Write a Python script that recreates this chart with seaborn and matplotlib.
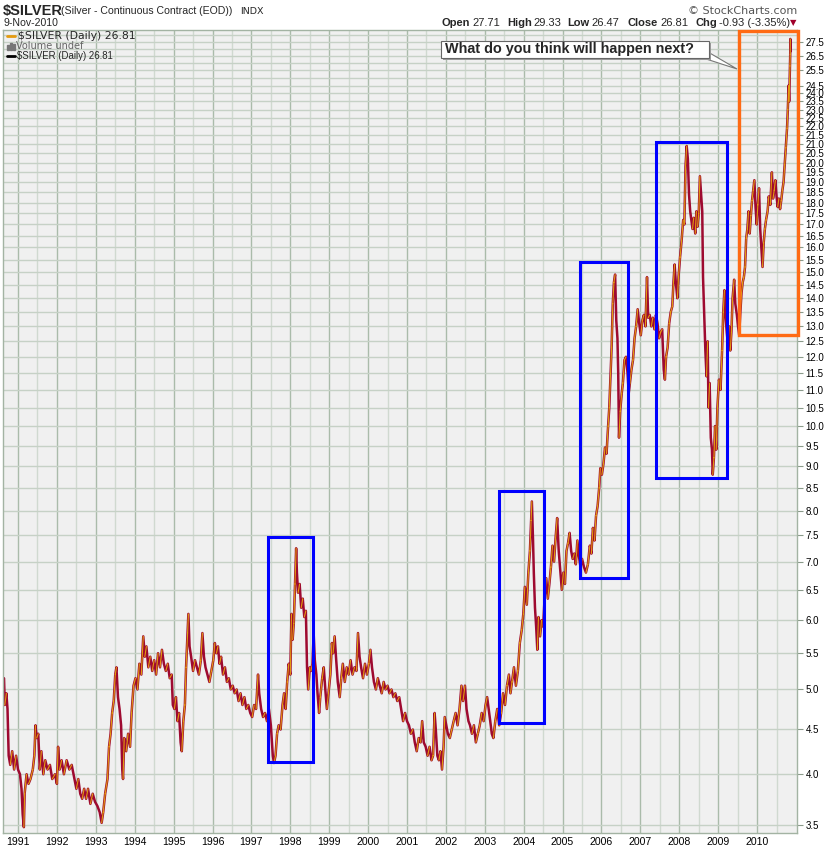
import numpy as np
import matplotlib
matplotlib.use("Agg")
import matplotlib.pyplot as plt
from matplotlib.patches import Rectangle, Polygon
from matplotlib.lines import Line2D
from matplotlib.ticker import FixedLocator, FixedFormatter, NullFormatter
import seaborn as sns

# silver close (decimal year, price)
dates = [
    1990.64, 1990.66, 1990.70, 1990.73, 1990.76, 1990.80, 1990.85, 1990.90, 1990.95, 1991.00,
    1991.05, 1991.09, 1991.12, 1991.15, 1991.17, 1991.22, 1991.27, 1991.32, 1991.38, 1991.42,
    1991.45, 1991.48, 1991.52, 1991.56, 1991.60, 1991.65, 1991.70, 1991.76, 1991.82, 1991.88,
    1991.95, 1992.00, 1992.03, 1992.07, 1992.12, 1992.18, 1992.25, 1992.32, 1992.38, 1992.45,
    1992.50, 1992.55, 1992.60, 1992.65, 1992.70, 1992.75, 1992.80, 1992.86, 1992.92, 1992.98,
    1993.04, 1993.10, 1993.15, 1993.19, 1993.24, 1993.30, 1993.34, 1993.38, 1993.42, 1993.46,
    1993.50, 1993.53, 1993.57, 1993.61, 1993.65, 1993.68, 1993.70, 1993.73, 1993.78, 1993.83,
    1993.88, 1993.92, 1993.97, 1994.02, 1994.07, 1994.12, 1994.17, 1994.22, 1994.26, 1994.30,
    1994.35, 1994.40, 1994.45, 1994.50, 1994.55, 1994.60, 1994.65, 1994.70, 1994.75, 1994.80,
    1994.85, 1994.90, 1994.95, 1994.98, 1995.02, 1995.06, 1995.10, 1995.14, 1995.18, 1995.21,
    1995.25, 1995.29, 1995.32, 1995.36, 1995.38, 1995.41, 1995.45, 1995.50, 1995.55, 1995.60,
    1995.65, 1995.70, 1995.74, 1995.78, 1995.82, 1995.87, 1995.92, 1995.97, 1996.02, 1996.06,
    1996.10, 1996.14, 1996.18, 1996.22, 1996.27, 1996.32, 1996.37, 1996.42, 1996.47, 1996.52,
    1996.57, 1996.62, 1996.67, 1996.72, 1996.77, 1996.82, 1996.87, 1996.92, 1996.97, 1997.02,
    1997.07, 1997.12, 1997.17, 1997.20, 1997.25, 1997.30, 1997.35, 1997.40, 1997.45, 1997.50,
    1997.55, 1997.58, 1997.62, 1997.66, 1997.70, 1997.75, 1997.80, 1997.84, 1997.88, 1997.92,
    1997.96, 1998.00, 1998.03, 1998.06, 1998.09, 1998.12, 1998.15, 1998.17, 1998.20, 1998.24,
    1998.28, 1998.32, 1998.36, 1998.40, 1998.43, 1998.46, 1998.50, 1998.53, 1998.57, 1998.60,
    1998.63, 1998.67, 1998.70, 1998.74, 1998.77, 1998.82, 1998.86, 1998.90, 1998.94, 1998.98,
    1999.03, 1999.07, 1999.10, 1999.14, 1999.18, 1999.22, 1999.27, 1999.31, 1999.35, 1999.40,
    1999.45, 1999.50, 1999.55, 1999.60, 1999.65, 1999.70, 1999.74, 1999.78, 1999.82, 1999.87,
    1999.92, 1999.97, 2000.02, 2000.06, 2000.10, 2000.15, 2000.20, 2000.25, 2000.30, 2000.35,
    2000.40, 2000.45, 2000.50, 2000.55, 2000.60, 2000.65, 2000.70, 2000.75, 2000.80, 2000.85,
    2000.90, 2000.95, 2001.00, 2001.05, 2001.10, 2001.15, 2001.20, 2001.25, 2001.30, 2001.35,
    2001.39, 2001.43, 2001.48, 2001.53, 2001.58, 2001.63, 2001.67, 2001.71, 2001.74, 2001.78,
    2001.82, 2001.86, 2001.90, 2001.94, 2001.97, 2002.01, 2002.05, 2002.10, 2002.15, 2002.20,
    2002.25, 2002.30, 2002.35, 2002.40, 2002.44, 2002.49, 2002.53, 2002.58, 2002.62, 2002.67,
    2002.72, 2002.77, 2002.82, 2002.87, 2002.92, 2002.97, 2003.02, 2003.06, 2003.10, 2003.14,
    2003.18, 2003.22, 2003.27, 2003.32, 2003.37, 2003.42, 2003.47, 2003.52, 2003.57, 2003.62,
    2003.66, 2003.70, 2003.75, 2003.80, 2003.85, 2003.90, 2003.95, 2003.99, 2004.03, 2004.08,
    2004.12, 2004.16, 2004.19, 2004.21, 2004.24, 2004.26, 2004.29, 2004.32, 2004.35, 2004.38,
    2004.42, 2004.46, 2004.50, 2004.54, 2004.58, 2004.62, 2004.66, 2004.70, 2004.74, 2004.78,
    2004.82, 2004.86, 2004.90, 2004.94, 2004.98, 2005.02, 2005.06, 2005.10, 2005.14, 2005.18,
    2005.22, 2005.26, 2005.30, 2005.34, 2005.38, 2005.42, 2005.46, 2005.50, 2005.55, 2005.60,
    2005.65, 2005.70, 2005.74, 2005.78, 2005.82, 2005.86, 2005.90, 2005.94, 2005.97, 2006.01,
    2006.05, 2006.09, 2006.13, 2006.17, 2006.20, 2006.23, 2006.26, 2006.29, 2006.32, 2006.35,
    2006.38, 2006.41, 2006.43, 2006.45, 2006.48, 2006.52, 2006.55, 2006.59, 2006.63, 2006.67,
    2006.70, 2006.73, 2006.77, 2006.81, 2006.85, 2006.89, 2006.93, 2006.97, 2007.01, 2007.05,
    2007.09, 2007.13, 2007.17, 2007.20, 2007.24, 2007.28, 2007.32, 2007.36, 2007.40, 2007.44,
    2007.48, 2007.52, 2007.56, 2007.60, 2007.63, 2007.66, 2007.70, 2007.74, 2007.78, 2007.82,
    2007.85, 2007.88, 2007.91, 2007.95, 2007.98, 2008.02, 2008.06, 2008.10, 2008.13, 2008.16,
    2008.19, 2008.22, 2008.25, 2008.28, 2008.31, 2008.34, 2008.37, 2008.41, 2008.44, 2008.47,
    2008.50, 2008.53, 2008.56, 2008.59, 2008.61, 2008.64, 2008.67, 2008.70, 2008.73, 2008.75,
    2008.78, 2008.81, 2008.84, 2008.86, 2008.89, 2008.92, 2008.95, 2008.98, 2009.02, 2009.06,
    2009.10, 2009.13, 2009.16, 2009.19, 2009.22, 2009.25, 2009.28, 2009.31, 2009.34, 2009.37,
    2009.41, 2009.44, 2009.48, 2009.51, 2009.54, 2009.57, 2009.60, 2009.63, 2009.66, 2009.69,
    2009.72, 2009.75, 2009.78, 2009.81, 2009.84, 2009.87, 2009.90, 2009.93, 2009.96, 2009.99,
    2010.02, 2010.05, 2010.08, 2010.11, 2010.14, 2010.17, 2010.20, 2010.23, 2010.27, 2010.30,
    2010.34, 2010.38, 2010.41, 2010.44, 2010.47, 2010.50, 2010.53, 2010.56, 2010.59, 2010.62,
    2010.65, 2010.68, 2010.71, 2010.74, 2010.77, 2010.79, 2010.81, 2010.825, 2010.835, 2010.845,
    2010.852, 2010.855, 2010.858,
]
prices = [
    5.15, 4.80, 4.95, 4.75, 4.20, 4.10, 4.25, 4.05, 4.20, 4.05,
    4.00, 3.85, 3.60, 3.48, 3.80, 4.00, 3.90, 3.95, 4.05, 4.20,
    4.55, 4.40, 4.45, 4.05, 4.25, 4.00, 4.15, 4.05, 4.10, 3.95,
    4.00, 3.90, 4.30, 4.05, 4.15, 4.00, 4.15, 4.05, 4.10, 3.95,
    3.85, 3.95, 3.80, 3.75, 3.85, 3.75, 3.85, 3.70, 3.80, 3.72,
    3.68, 3.62, 3.52, 3.62, 3.80, 3.95, 4.30, 4.45, 4.70, 4.85,
    5.20, 5.30, 4.90, 4.75, 4.55, 4.05, 3.95, 4.40, 4.25, 4.45,
    4.30, 4.70, 5.05, 5.15, 5.00, 5.35, 5.20, 5.75, 5.45, 5.60,
    5.30, 5.45, 5.25, 5.40, 5.20, 5.50, 5.30, 5.55, 5.35, 5.25,
    5.35, 5.15, 5.20, 4.80, 4.75, 4.90, 4.60, 4.70, 4.35, 4.25,
    4.60, 4.80, 5.30, 5.80, 6.10, 5.60, 5.45, 5.25, 5.40, 5.30,
    5.20, 5.40, 5.80, 5.45, 5.30, 5.20, 5.10, 5.25, 5.40, 5.65,
    5.50, 5.60, 5.35, 5.45, 5.20, 5.30, 5.10, 5.15, 5.00, 5.05,
    4.95, 5.00, 4.85, 4.95, 4.80, 4.90, 4.75, 4.80, 4.70, 4.65,
    4.80, 4.75, 5.20, 4.95, 4.75, 4.65, 4.70, 4.60, 4.75, 4.55,
    4.20, 4.12, 4.20, 4.45, 4.55, 4.50, 4.80, 4.95, 4.75, 5.10,
    5.35, 5.20, 6.10, 5.70, 5.95, 6.60, 7.25, 6.80, 6.45, 6.60,
    6.20, 6.35, 6.05, 6.15, 5.30, 5.00, 5.30, 5.25, 5.35, 5.80,
    5.40, 5.20, 4.95, 4.70, 4.90, 5.15, 5.30, 5.00, 4.75, 4.95,
    5.20, 5.65, 5.50, 5.75, 5.40, 5.10, 4.90, 5.15, 5.35, 5.10,
    5.30, 5.20, 5.40, 5.20, 5.30, 5.25, 5.80, 5.45, 5.30, 5.15,
    5.35, 5.20, 5.35, 5.55, 5.30, 5.10, 5.00, 5.15, 5.05, 4.95,
    5.10, 5.00, 5.05, 4.95, 5.00, 4.90, 4.95, 4.85, 4.90, 4.75,
    4.60, 4.70, 4.60, 4.55, 4.45, 4.50, 4.35, 4.25, 4.40, 4.35,
    4.60, 4.35, 4.30, 4.20, 4.30, 4.15, 4.20, 4.70, 4.50, 4.20,
    4.15, 4.25, 4.05, 4.30, 4.65, 4.55, 4.45, 4.40, 4.50, 4.60,
    4.70, 4.55, 4.75, 5.05, 4.85, 5.05, 4.75, 4.60, 4.55, 4.45,
    4.55, 4.35, 4.45, 4.55, 4.70, 4.60, 4.80, 4.90, 4.75, 4.60,
    4.45, 4.40, 4.60, 4.75, 4.55, 4.70, 4.95, 4.80, 5.05, 5.20,
    4.95, 5.10, 5.30, 5.05, 5.25, 5.65, 5.85, 6.10, 6.55, 6.25,
    6.80, 7.20, 7.80, 8.20, 7.40, 6.80, 6.20, 5.90, 5.55, 6.05,
    5.75, 6.00, 5.90, 6.40, 6.70, 6.35, 6.60, 6.90, 7.30, 7.00,
    7.45, 7.85, 7.20, 6.85, 6.50, 6.80, 6.60, 7.20, 7.35, 7.55,
    7.20, 7.05, 7.15, 6.95, 7.40, 7.10, 6.90, 7.05, 6.90, 6.80,
    6.95, 7.30, 7.15, 7.65, 7.40, 7.90, 8.10, 8.50, 8.95, 8.80,
    9.05, 9.45, 9.30, 10.00, 10.50, 11.40, 12.30, 13.80, 14.60, 14.90,
    13.20, 12.60, 11.50, 9.70, 10.40, 10.90, 11.20, 11.90, 12.00, 11.50,
    10.90, 11.20, 11.60, 11.90, 12.60, 13.00, 13.60, 13.10, 12.70, 13.20,
    13.40, 13.00, 14.80, 13.30, 13.40, 13.00, 13.30, 12.90, 13.40, 13.10,
    12.60, 12.80, 12.90, 11.60, 11.30, 12.00, 12.30, 13.10, 13.50, 13.70,
    14.60, 15.30, 14.60, 14.00, 14.80, 15.60, 16.30, 17.20, 17.00, 19.80,
    20.90, 20.20, 18.40, 17.60, 17.20, 16.80, 17.30, 16.60, 17.60, 16.90,
    17.50, 19.30, 18.40, 17.60, 14.80, 13.40, 12.20, 11.40, 12.50, 10.50,
    11.20, 9.70, 9.40, 8.80, 9.20, 10.00, 9.40, 10.50, 11.30, 11.00,
    12.20, 13.50, 14.30, 13.30, 12.80, 12.40, 13.00, 12.20, 12.80, 14.00,
    14.70, 13.80, 13.40, 13.00, 12.70, 13.50, 14.20, 14.60, 14.80, 15.20,
    16.40, 16.80, 17.60, 16.60, 17.40, 18.10, 18.60, 19.10, 17.80, 17.00,
    17.90, 18.70, 16.80, 16.00, 15.20, 16.20, 16.80, 17.20, 17.60, 18.30,
    17.90, 19.50, 18.20, 18.60, 19.10, 18.30, 17.80, 18.20, 17.70, 18.10,
    18.60, 19.00, 19.90, 20.80, 21.90, 23.00, 24.50, 23.50, 24.80, 25.80,
    26.60, 27.70, 26.81,
]

# highlighted boxes: (start year, end year), (low, high)
box_years = [(1997.43, 1998.58), (2003.37, 2004.52), (2005.45, 2006.68), (2007.40, 2009.23)]
box_prices = [(4.13, 7.47), (4.58, 8.43), (6.70, 15.4), (8.73, 21.1)]
next_years = (2009.53, 2011.05)
next_prices = (12.7, 28.3)

year_labels = list(range(1991, 2011))
price_ticks = [v / 2 for v in range(7, 50)] + [25.5, 26.5, 27.5]
extra_grid = [25.0, 26.0, 27.0, 28.0]

W, H = 825, 849


def fx(x):
    return x / W


def fy(y):
    return 1 - y / H


sns.set_theme(style="white")
plt.rcParams["font.family"] = ["Liberation Sans", "DejaVu Sans"]

fig = plt.figure(figsize=(W / 100, H / 100), dpi=100)
ax = fig.add_axes([fx(3), fy(833), (797 - 3) / W, (833 - 30) / H])
ax.set_facecolor("#f0f0f0")
ax.set_yscale("log")
ax.set_xlim(1990.614, 2011.026)
ax.set_ylim(3.427, 28.36)

# grid
ax.xaxis.set_major_locator(FixedLocator(year_labels))
ax.xaxis.set_minor_locator(FixedLocator([y + 0.5 for y in range(1990, 2011)]))
ax.yaxis.set_major_locator(FixedLocator(price_ticks))
ax.yaxis.set_major_formatter(FixedFormatter([f"{v:.1f}" for v in price_ticks]))
ax.yaxis.set_minor_locator(FixedLocator(extra_grid))
ax.yaxis.set_minor_formatter(NullFormatter())
ax.grid(which="major", axis="x", color="#aabbaa", lw=1.0)
ax.grid(which="minor", axis="x", color="#d0d9d0", lw=1.0)
ax.grid(which="both", axis="y", color="#c6d1c6", lw=1.0)
ax.set_axisbelow(True)

ax.yaxis.tick_right()
ax.tick_params(axis="y", which="major", length=4, width=0.8, color="#8a9a8a",
               labelsize=7.0, pad=2, labelcolor="black")
ax.tick_params(axis="y", which="minor", length=0)
ax.tick_params(axis="x", which="both", length=0, labelsize=7.6, pad=3, labelcolor="black")
for s in ax.spines.values():
    s.set_color("#a3b3a3")
    s.set_linewidth(1.0)

# price line: red, with rising stretches in orange
sns.lineplot(x=dates, y=prices, ax=ax, color="#9e0a30", lw=1.8,
             estimator=None, sort=False, legend=False)
d = np.array(dates)
p = np.array(prices)
up = np.where(np.diff(p) > 0)[0]
ux = np.column_stack([d[up], d[up + 1], np.full(len(up), np.nan)]).ravel()
uy = np.column_stack([p[up], p[up + 1], np.full(len(up), np.nan)]).ravel()
ax.plot(ux, uy, color="#e49b0f", lw=0.8)

for (x0, x1), (y0, y1) in zip(box_years, box_prices):
    ax.add_patch(Rectangle((x0, y0), x1 - x0, y1 - y0, fill=False,
                           ec="#0000ff", lw=2.2, zorder=5))
ax.add_patch(Rectangle((next_years[0], next_prices[0]), next_years[1] - next_years[0],
                       next_prices[1] - next_prices[0], fill=False, ec="#ff6a14",
                       lw=2.4, zorder=5, clip_on=False))
ax.set_xlabel("")
ax.set_ylabel("")

# header
fig.text(fx(3), fy(11), "$SILVER", fontsize=10.5, weight="bold", va="center")
fig.text(fx(61), fy(11), "(Silver - Continuous Contract (EOD))", fontsize=7.6, va="center")
fig.text(fx(240), fy(11), "INDX", fontsize=6.8, family="DejaVu Sans", va="center")
fig.text(fx(3), fy(23), "9-Nov-2010", fontsize=7.6, va="center")
fig.text(fx(797), fy(11), "\u00a9 StockCharts.com", fontsize=8, color="#555555",
         ha="right", va="center", family="DejaVu Sans")
ohlc = [(442, "Open", True), (472, "27.71", False), (507, "High", True), (533, "29.33", False),
        (567, "Low", True), (591, "26.47", False), (627, "Close", True), (660, "26.81", False),
        (695, "Chg", True), (719, "-0.93 (-3.35%)", False)]
for x, s, b in ohlc:
    fig.text(fx(x), fy(23), s, fontsize=8, weight="bold" if b else "normal", va="center")
fig.text(fx(793), fy(23), "\u25bc", fontsize=6, color="#a0002a", ha="center",
         va="center", family="DejaVu Sans")

# legend block in the top-left corner
fig.add_artist(Line2D([fx(7), fx(15)], [fy(36), fy(36)], color="#e49b0f", lw=2))
fig.text(fx(18), fy(36), "$SILVER (Daily) 26.81", fontsize=7.8, family="DejaVu Sans", va="center")
for i, h in enumerate([5, 7, 6]):
    fig.add_artist(Rectangle((fx(7 + 3 * i), fy(50)), 2 / W, h / H,
                             transform=fig.transFigure, color="#777777"))
fig.text(fx(16), fy(46), "Volume undef", fontsize=7, family="DejaVu Sans",
         color="#666666", va="center")
fig.add_artist(Line2D([fx(7), fx(15)], [fy(56), fy(56)], color="black", lw=2))
fig.text(fx(17), fy(56), "$SILVER (Daily) 26.81", fontsize=6.9, va="center")

# callout
fig.add_artist(Polygon([(fx(700), fy(57)), (fx(708), fy(52)), (fx(737), fy(69))],
                       closed=True, transform=fig.transFigure, fc="white",
                       ec="#777777", lw=0.8, zorder=6))
fig.add_artist(Rectangle((fx(443), fy(60)), 268 / W, 17 / H, transform=fig.transFigure,
                         fc="#9a9a9a", ec="none", zorder=6))
fig.add_artist(Rectangle((fx(441), fy(58)), 268 / W, 17 / H, transform=fig.transFigure,
                         fc="white", ec="#666666", lw=0.8, zorder=7))
fig.text(fx(445), fy(49.5), "What do you think will happen next?", fontsize=10.4,
         weight="bold", va="center", zorder=8)

fig.savefig("out.png", dpi=100)
